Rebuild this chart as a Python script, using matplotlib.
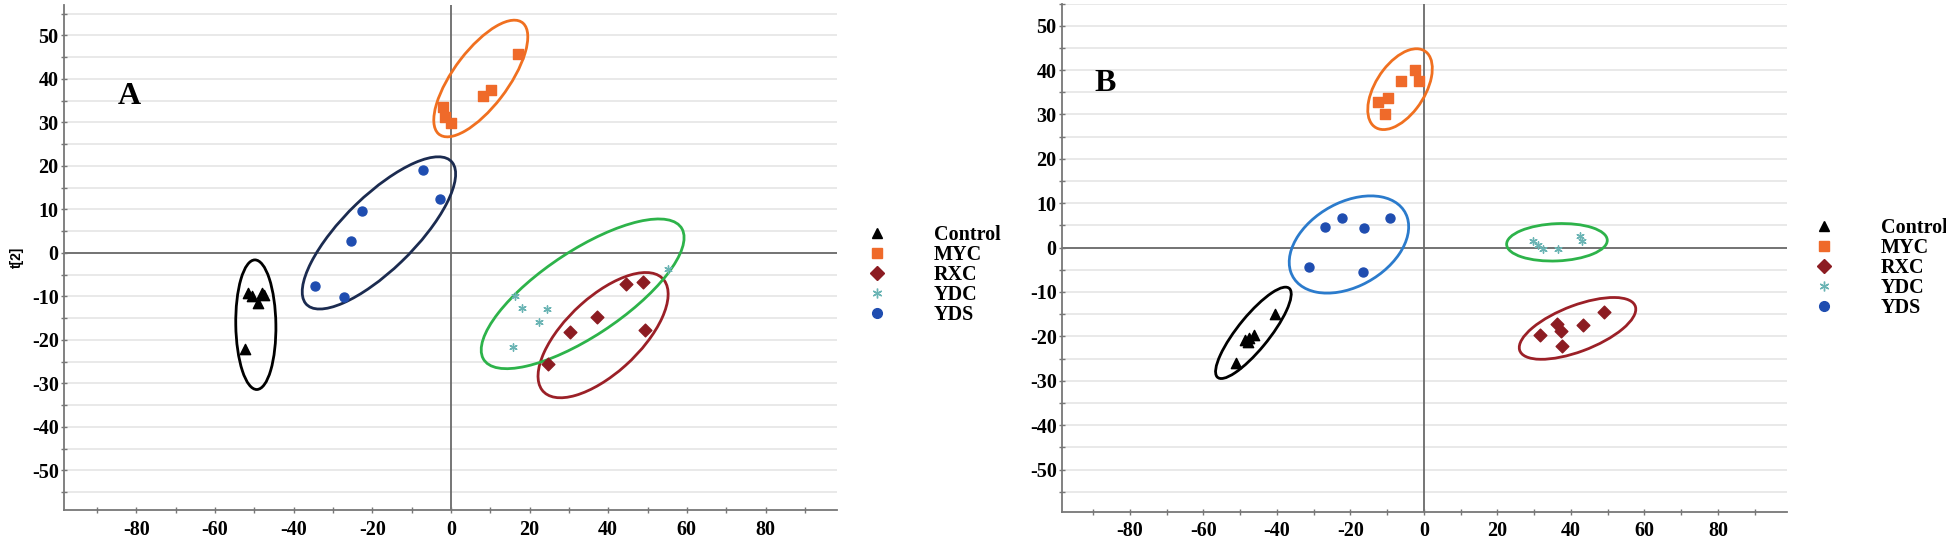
import matplotlib
matplotlib.use("Agg")
import matplotlib.pyplot as plt
from matplotlib.patches import Ellipse
from matplotlib.lines import Line2D

# ---- scores, panel A ----
a_control_x = [-51.7, -48.1, -49.1, -52.4, -50.5, -47.6]
a_control_y = [-9.1, -9.1, -11.4, -22.0, -9.8, -9.6]
a_myc_x = [-2.0, -1.5, -0.1, 8.2, 10.2, 17.1]
a_myc_y = [33.5, 31.3, 29.9, 36.1, 37.4, 45.8]
a_rxc_x = [44.5, 48.9, 37.1, 30.3, 49.4, 24.8]
a_rxc_y = [-7.2, -6.7, -14.8, -18.1, -17.8, -25.5]
a_ydc_x = [16.3, 18.2, 24.4, 22.5, 15.9, 55.3]
a_ydc_y = [-9.9, -12.6, -13.0, -15.9, -21.7, -3.7]
a_yds_x = [-7.2, -2.8, -22.6, -25.5, -34.5, -27.2]
a_yds_y = [19.0, 12.4, 9.7, 2.7, -7.6, -10.1]

# ---- scores, panel B ----
b_control_x = [-40.4, -46.1, -47.6, -47.9, -48.8, -51.2]
b_control_y = [-15.0, -19.6, -20.4, -21.2, -20.8, -26.1]
b_myc_x = [-2.4, -6.3, -1.3, -9.7, -12.6, -10.6]
b_myc_y = [40.0, 37.6, 37.6, 33.6, 32.7, 30.0]
b_rxc_x = [49.0, 36.1, 43.2, 31.6, 37.3, 37.5]
b_rxc_y = [-14.6, -17.2, -17.4, -19.7, -18.9, -22.1]
b_ydc_x = [29.6, 31.1, 32.3, 36.5, 42.6, 42.9]
b_ydc_y = [1.5, 0.7, -0.4, -0.4, 2.6, 1.6]
b_yds_x = [-9.3, -22.2, -26.9, -16.3, -31.3, -16.5]
b_yds_y = [6.7, 6.7, 4.7, 4.4, -4.4, -5.4]

# group ellipses: (cx, cy, long axis, short axis, angle), order Control, MYC, RXC, YDC, YDS
a_ellipses = [(-49.6, -16.5, 29.8, 10.2, 91), (7.6, 40.1, 33.3, 13.5, 49.6),
              (38.7, -18.9, 40.0, 18.0, 39), (33.5, -9.4, 58.7, 20.0, 30.5),
              (-18.3, 4.6, 49.4, 17.5, 41)]
b_ellipses = [(-46.4, -19.2, 28.0, 8.0, 45), (-6.5, 35.7, 22.0, 12.5, 47),
              (41.8, -18.2, 33.0, 10.5, 17), (36.2, 1.2, 27.4, 8.4, 2),
              (-20.4, 0.7, 34.0, 19.5, 21)]

groups = ["Control", "MYC", "RXC", "YDC", "YDS"]
x_ticks = [-80, -60, -40, -20, 0, 20, 40, 60, 80]
y_ticks = [-50, -40, -30, -20, -10, 0, 10, 20, 30, 40, 50]

plt.rcParams["axes.unicode_minus"] = False
SERIF = "Liberation Serif"

marker_style = {
    "Control": dict(marker="^", color="black", s=55),
    "MYC": dict(marker="s", color="#ef6a2a", s=42),
    "RXC": dict(marker="D", color="#8c1c22", s=42),
    "YDC": dict(marker=(6, 2, 0), color="#6ab4b4", s=28, linewidths=1.0),
    "YDS": dict(marker="o", color="#1f4db0", s=42),
}
ell_colors_a = ["black", "#f07020", "#9b2027", "#2db34a", "#1b2b50"]
ell_colors_b = ["black", "#f07020", "#9b2027", "#2db34a", "#2b7bcc"]


def draw_panel(ax, xs, ys, ellipses, ell_colors, xlim, ylim, letter, letter_xy):
    for yv in range(-55, 60, 5):
        ax.axhline(yv, color="#e9e9e9", lw=1.4, zorder=0)
    ax.axhline(0, color="#6a6a6a", lw=1.3, zorder=1)
    ax.axvline(0, color="#6a6a6a", lw=1.3, zorder=1)

    for (cx, cy, w, h, ang), col in zip(ellipses, ell_colors):
        ax.add_patch(Ellipse((cx, cy), w, h, angle=ang, fill=False,
                             edgecolor=col, lw=2.0, zorder=3))
    for g, x, y in zip(groups, xs, ys):
        ax.scatter(x, y, zorder=4, **marker_style[g])

    ax.set_xlim(*xlim)
    ax.set_ylim(*ylim)
    ax.set_xticks(x_ticks)
    ax.set_xticks(range(-90, 100, 10), minor=True)
    ax.set_yticks(y_ticks)
    ax.set_yticks(range(-55, 60, 5), minor=True)
    for sp in ["top", "right"]:
        ax.spines[sp].set_visible(False)
    for sp in ["left", "bottom"]:
        ax.spines[sp].set_color("#777777")
        ax.spines[sp].set_linewidth(1.3)
    ax.tick_params(which="both", direction="inout", length=4, width=1,
                   color="#777777", labelsize=14.5)
    ax.tick_params(axis="x", pad=5)
    ax.tick_params(axis="y", pad=2)
    for lab in ax.get_xticklabels() + ax.get_yticklabels():
        lab.set_fontfamily(SERIF)
        lab.set_fontweight("bold")
    ax.text(letter_xy[0], letter_xy[1], letter, transform=ax.transAxes,
            fontfamily=SERIF, fontweight="bold", fontsize=23,
            ha="center", va="baseline")


fig = plt.figure(figsize=(19.46, 5.43), dpi=100)
W, H = 1946, 543

axA = fig.add_axes([64.3 / W, 1 - 510 / H, (836.7 - 64.3) / W, (510 - 5) / H])
draw_panel(axA,
           [a_control_x, a_myc_x, a_rxc_x, a_ydc_x, a_yds_x],
           [a_control_y, a_myc_y, a_rxc_y, a_ydc_y, a_yds_y],
           a_ellipses, ell_colors_a, (-98.3, 98.1), (-59.1, 57.0),
           "A", ((129 - 64.3) / (836.7 - 64.3), (510 - 104) / (510 - 5)))
axA.set_ylabel("t[2]", fontfamily="Liberation Sans", fontweight="bold",
               fontsize=10, labelpad=6)

axB = fig.add_axes([1062.3 / W, 1 - 511.7 / H, (1787 - 1062.3) / W, (511.7 - 3.5) / H])
draw_panel(axB,
           [b_control_x, b_myc_x, b_rxc_x, b_ydc_x, b_yds_x],
           [b_control_y, b_myc_y, b_rxc_y, b_ydc_y, b_yds_y],
           b_ellipses, ell_colors_b, (-98.4, 98.8), (-59.5, 54.5),
           "B", ((1105 - 1062.3) / (1787 - 1062.3), (511.7 - 91) / (511.7 - 3.5)))


def legend_handles():
    hs = []
    for g in groups:
        st = marker_style[g]
        hs.append(Line2D([], [], linestyle="none", marker=st["marker"],
                         color=st["color"], markersize=7,
                         markeredgewidth=st.get("linewidths", 1.0)))
    return hs


for lx, ly in [(857, 215), (1804, 208)]:
    fig.legend(legend_handles(), groups, loc="upper left",
               bbox_to_anchor=(lx / W, 1 - ly / H), frameon=False,
               borderpad=0, handlelength=1.0, handletextpad=2.3,
               labelspacing=0.0,
               prop={"family": SERIF, "weight": "bold", "size": 14.5})

fig.savefig("out.png", dpi=100)
